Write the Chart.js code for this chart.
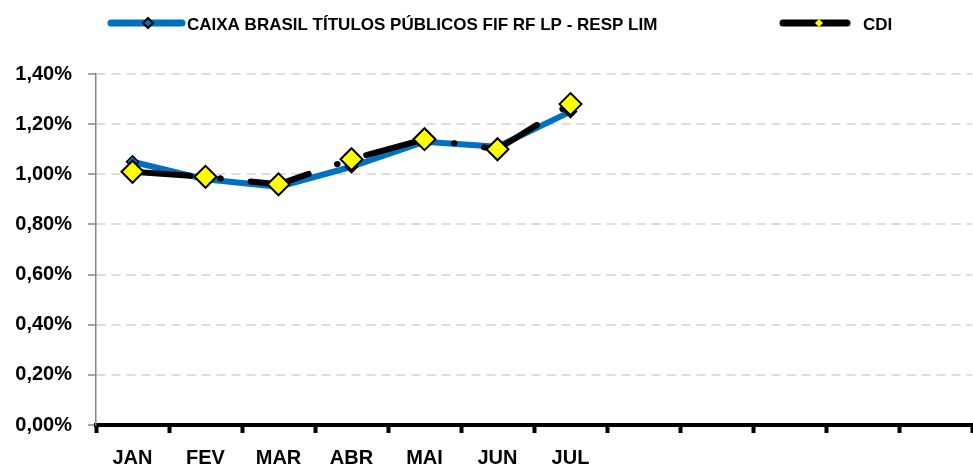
<!DOCTYPE html>
<html><head><meta charset="utf-8">
<script src="https://cdn.jsdelivr.net/npm/chart.js@4/dist/chart.umd.min.js"></script>
<style>html,body{margin:0;padding:0;background:#fff;overflow:hidden}canvas{display:block}</style>
</head><body>
<canvas id="c" width="973" height="470"></canvas>
<script>
const categories = ['JAN','FEV','MAR','ABR','MAI','JUN','JUL','AGO','SET','OUT','NOV','DEZ'];
const tickLabels = ['JAN','FEV','MAR','ABR','MAI','JUN','JUL','','','','',''];
const caixaLabel = 'CAIXA BRASIL TÍTULOS PÚBLICOS FIF RF LP - RESP LIM';
const cdiLabel = 'CDI';
const caixaValues = [1.05, 0.98, 0.95, 1.03, 1.13, 1.11, 1.25, null, null, null, null, null];
const cdiValues = [1.01, 0.99, 0.96, 1.06, 1.14, 1.10, 1.28, null, null, null, null, null];
const yTicks = [0, 0.2, 0.4, 0.6, 0.8, 1.0, 1.2, 1.4];

const FONT = "'Liberation Sans', Arial, sans-serif";
const BLUE = '#0070C0';

function diamond(ctx, x, y, r) {
  ctx.beginPath();
  ctx.moveTo(x, y - r); ctx.lineTo(x + r, y); ctx.lineTo(x, y + r); ctx.lineTo(x - r, y);
  ctx.closePath();
}

const legendPlugin = {
  id: 'customLegend',
  afterDraw(chart) {
    const ctx = chart.ctx;
    const ds = chart.data.datasets;
    ctx.save();
    ctx.lineCap = 'round';
    ctx.strokeStyle = ds[1].borderColor; ctx.lineWidth = 7;
    ctx.beginPath(); ctx.moveTo(111, 23); ctx.lineTo(182, 23); ctx.stroke();
    diamond(ctx, 148, 23, 5);
    ctx.fillStyle = ds[1].pointBackgroundColor; ctx.fill();
    ctx.lineWidth = 2; ctx.strokeStyle = '#000'; ctx.stroke();
    ctx.strokeStyle = ds[0].borderColor; ctx.lineWidth = 7;
    ctx.beginPath(); ctx.moveTo(783, 23); ctx.lineTo(847, 23); ctx.stroke();
    diamond(ctx, 819, 23, 4);
    ctx.fillStyle = ds[0].pointBackgroundColor; ctx.fill();
    ctx.fillStyle = '#000';
    ctx.font = "bold 17px " + FONT;
    ctx.textBaseline = 'alphabetic';
    ctx.textAlign = 'left';
    ctx.fillText(ds[1].label, 187, 30);
    ctx.fillText(ds[0].label, 863, 30);
    ctx.restore();
  }
};

new Chart(document.getElementById('c'), {
  type: 'line',
  data: {
    labels: categories,
    datasets: [
      {
        label: cdiLabel,
        data: cdiValues,
        borderColor: '#000000',
        borderWidth: 6,
        borderCapStyle: 'round',
        borderJoinStyle: 'round',
        borderDash: [60, 30, 0.5, 30],
        borderDashOffset: 2,
        pointStyle: 'rectRot',
        pointRadius: 11,
        pointBackgroundColor: '#FFFF00',
        pointBorderColor: '#000000',
        pointBorderWidth: 2,
        tension: 0,
        order: 0
      },
      {
        label: caixaLabel,
        data: caixaValues,
        borderColor: BLUE,
        borderWidth: 6,
        borderCapStyle: 'round',
        borderJoinStyle: 'round',
        pointStyle: 'rectRot',
        pointRadius: 6,
        pointBackgroundColor: BLUE,
        pointBorderColor: '#000000',
        pointBorderWidth: 1.5,
        tension: 0,
        order: 1
      }
    ]
  },
  options: {
    responsive: false,
    animation: false,
    events: [],
    devicePixelRatio: 1,
    layout: { autoPadding: false, padding: { top: 74, right: 1, left: 0, bottom: 0 } },
    plugins: { legend: { display: false }, tooltip: { enabled: false } },
    scales: {
      x: {
        type: 'category',
        offset: true,
        grid: { offset: true, drawOnChartArea: false, drawTicks: true, tickLength: 8, tickWidth: 4, tickColor: '#000' },
        border: { display: true, color: '#000', width: 4 },
        ticks: {
          autoSkip: false, maxRotation: 0, minRotation: 0, padding: 13, color: '#000',
          font: { family: FONT, size: 20, weight: 'bold' },
          callback: (v, i) => tickLabels[i]
        },
        afterFit(s) { s.height = 45; s.paddingLeft = 0; s.paddingRight = 0; }
      },
      y: {
        min: 0, max: 1.4,
        afterBuildTicks(s) { s.ticks = yTicks.map(v => ({ value: v })); },
        grid: { color: '#DDDDDD', lineWidth: 2, tickColor: '#868686', tickLength: 8, tickWidth: 1.5 },
        border: { display: true, color: '#868686', width: 1.5, dash: [9, 6] },
        ticks: {
          padding: 16, color: '#000',
          font: { family: FONT, size: 20, weight: 'bold' },
          callback: v => v.toFixed(2).replace('.', ',') + '%'
        },
        afterFit(s) { s.width = 96; }
      }
    }
  },
  plugins: [legendPlugin]
});
</script>
</body></html>
